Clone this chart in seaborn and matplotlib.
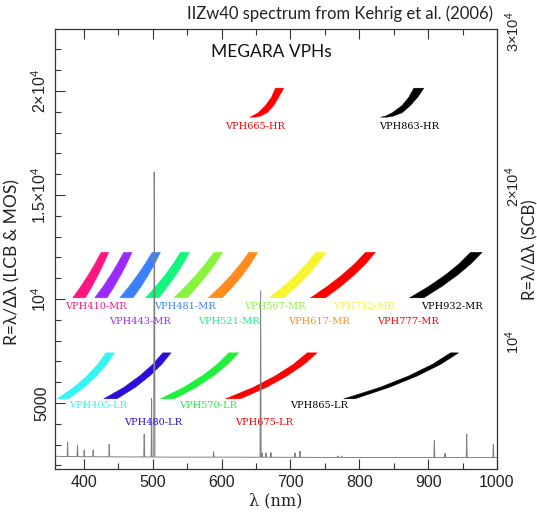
import matplotlib
matplotlib.use("Agg")
import matplotlib.pyplot as plt
from matplotlib.ticker import MultipleLocator, FixedLocator
import seaborn as sns

# spectrum of IIZw40 (wavelength nm, flux scaled to the left axis)
spec_wave = [358, 370, 375.6, 376.3, 377.0, 385, 390.0, 390.7, 391.4, 396,
             399.7, 400.4, 401.1, 408, 412.8, 413.5, 414.2, 425, 436.1, 436.8,
             437.5, 455, 470, 486.9, 487.6, 488.3, 495, 497.6, 498.3, 499.0,
             501.4, 502.1, 502.6, 503.2, 520, 550, 587.7, 588.4, 589.1, 620,
             645, 655.9, 656.7, 657.4, 658.4, 659.0, 659.6, 663.8, 664.4, 665.0,
             671.1, 671.7, 672.3, 690, 705.9, 706.6, 707.3, 713.1, 713.8, 714.5,
             740, 768.4, 769.0, 769.6, 773.8, 774.4, 775.0, 820, 860, 890,
             908.3, 909.0, 909.7, 923.8, 924.5, 925.2, 940, 955.3, 956.0, 956.7,
             975, 994.0, 994.7, 995.4, 1000]
spec_flux = [2440, 2430, 2430, 3125, 2430, 2425, 2425, 2980, 2425, 2420,
             2420, 2740, 2420, 2420, 2420, 2740, 2420, 2415, 2415, 3015,
             2415, 2410, 2410, 2410, 3500, 2410, 2405, 2405, 5230, 2405,
             2405, 16100, 13900, 2405, 2400, 2400, 2400, 2660, 2400, 2400,
             2395, 2395, 10400, 2395, 2395, 2600, 2395, 2395, 2600, 2395,
             2395, 2610, 2395, 2390, 2390, 2600, 2390, 2390, 2690, 2390,
             2385, 2385, 2450, 2385, 2385, 2450, 2385, 2380, 2380, 2380,
             2380, 3190, 2380, 2380, 2580, 2380, 2380, 2380, 3510, 2380,
             2380, 2380, 3020, 2380, 2380]

# MR gratings: resolution levels and band edges (nm)
mr_names = ["VPH410-MR", "VPH443-MR", "VPH481-MR", "VPH521-MR", "VPH567-MR",
            "VPH617-MR", "VPH712-MR", "VPH777-MR", "VPH932-MR"]
mr_colors = ["#ff1480", "#9a2bff", "#3a80ff", "#14f57d", "#88f53c",
             "#ff8c1e", "#f5f532", "#ff0000", "#000000"]
mr_R = [10080, 10628, 11175, 11722, 12270]
mr_left = [[383.0, 394.7, 405.5, 415.3, 424.3],
           [415.0, 427.0, 438.0, 448.0, 457.1],
           [451.3, 464.7, 477.0, 488.2, 498.4],
           [488.6, 503.5, 517.0, 529.0, 539.5],
           [529.7, 546.6, 562.0, 575.8, 587.9],
           [579.7, 597.3, 613.0, 626.8, 638.7],
           [667.8, 688.7, 707.0, 722.6, 735.6],
           [728.4, 752.6, 774.0, 792.6, 808.3],
           [872.2, 900.0, 924.0, 944.3, 960.8]]
mr_right = [[401.5, 411.2, 420.0, 428.0, 435.3],
            [433.0, 443.5, 453.0, 461.6, 469.3],
            [470.8, 482.5, 493.0, 502.3, 510.4],
            [508.0, 521.2, 533.0, 543.5, 552.6],
            [549.2, 564.3, 578.0, 590.2, 601.0],
            [600.1, 616.0, 630.0, 641.9, 651.8],
            [689.6, 708.5, 725.0, 739.3, 751.2],
            [750.2, 772.5, 792.0, 808.8, 822.8],
            [893.0, 919.2, 942.0, 961.6, 977.8]]
mr_lab_x = [417, 482, 547, 611, 678, 742, 807, 871, 935]
mr_lab_y = [9630, 8940, 9630, 8940, 9630, 8940, 9630, 8940, 9630]

# LR gratings
lr_names = ["VPH405-LR", "VPH480-LR", "VPH570-LR", "VPH675-LR", "VPH865-LR"]
lr_colors = ["#33f5f5", "#2b0fd8", "#1ef03c", "#ff0000", "#000000"]
lr_R = [5226, 5779, 6332, 6884, 7437]
lr_left = [[360.3, 384.5, 403.7, 419.3, 431.4],
           [428.0, 457.2, 480.3, 499.2, 513.8],
           [510.4, 544.2, 571.0, 592.8, 609.7],
           [604.9, 645.3, 677.3, 703.4, 723.6],
           [776.7, 829.4, 871.3, 905.4, 931.8]]
lr_right = [[377.2, 399.9, 417.9, 432.6, 443.9],
            [447.4, 474.1, 495.2, 512.5, 525.8],
            [530.8, 562.6, 587.8, 608.3, 624.2],
            [626.7, 664.6, 694.7, 719.2, 738.1],
            [793.0, 843.0, 884.0, 917.5, 943.5]]
lr_lab_x = [420, 500, 580, 661, 741]
lr_lab_y = [4860, 4070, 4860, 4070, 4860]

# HR gratings
hr_names = ["VPH665-HR", "VPH863-HR"]
hr_colors = ["#ff0000", "#000000"]
hr_R = [18766, 18814, 18974, 19327, 19727, 20160]
hr_left = [[640.2, 643.6, 652.3, 663.0, 671.7, 677.5],
           [830.1, 837.3, 847.0, 861.5, 871.2, 878.5]]
hr_right = [[648.4, 655.7, 665.4, 675.1, 682.3, 689.6],
            [839.8, 848.4, 861.5, 873.6, 884.3, 893.0]]
hr_lab_x = [648, 872]
hr_lab_y = [18280, 18280]

left_ticks = [5000, 10000, 15000, 20000]
left_labels = ["5000", "10$^{4}$", "1.5×10$^{4}$", "2×10$^{4}$"]
right_ticks = [10000, 20000, 30000]
right_labels = ["10$^{4}$", "2×10$^{4}$", "3×10$^{4}$"]

sns.set_theme(style="ticks")
plt.rcParams["font.family"] = ["Liberation Sans", "DejaVu Sans"]
plt.rcParams["mathtext.fontset"] = "custom"
plt.rcParams["mathtext.rm"] = "Liberation Sans"
plt.rcParams["mathtext.it"] = "Liberation Sans:italic"
SANS = ["Lato", "DejaVu Sans"]
SERIF = ["DejaVu Serif"]

fig = plt.figure(figsize=(5.37, 5.12), dpi=100)
ax = fig.add_axes([0.1024, 0.0840, 0.8231, 0.8594])

sns.lineplot(x=spec_wave, y=spec_flux, sort=False, estimator=None,
             color="0.5", lw=0.7, ax=ax)

groups = [(mr_names, mr_colors, [mr_R] * len(mr_names), mr_left, mr_right, mr_lab_x, mr_lab_y),
          (lr_names, lr_colors, [lr_R] * len(lr_names), lr_left, lr_right, lr_lab_x, lr_lab_y),
          (hr_names, hr_colors, [hr_R] * len(hr_names), hr_left, hr_right, hr_lab_x, hr_lab_y)]
for names, colors, levels, lefts, rights, lx, ly in groups:
    for i in range(len(names)):
        ax.fill_betweenx(levels[i], lefts[i], rights[i], color=colors[i], lw=0.3,
                         edgecolor=colors[i])
        ax.text(lx[i], ly[i], names[i], color=colors[i], family=SERIF,
                fontsize=7, ha="center", va="center")

ax.set_xlim(358, 1000)
ax.set_ylim(1830, 22980)
ax.xaxis.set_major_locator(MultipleLocator(100))
ax.xaxis.set_minor_locator(MultipleLocator(50))
ax.yaxis.set_major_locator(FixedLocator(left_ticks))
ax.yaxis.set_minor_locator(MultipleLocator(1000))
ax.set_yticklabels(left_labels, rotation=90, va="center")
ax.tick_params(which="both", direction="in", top=True, right=True,
               colors="#333333", labelcolor="#222222", labelsize=11.5, width=0.8)
ax.tick_params(which="major", length=7, pad=4)
ax.tick_params(which="minor", length=4)
for sp in ax.spines.values():
    sp.set_color("#333333")
    sp.set_linewidth(0.9)

ax.set_xlabel("λ (nm)", family=SERIF, fontsize=11.5, labelpad=2, color="#222222")
ax.set_ylabel("")

ax2 = ax.twinx()
ax2.set_ylim(1806, 30194)
ax2.set_yticks(right_ticks)
ax2.set_yticklabels(right_labels, rotation=90, va="center")
ax2.tick_params(axis="y", length=0, pad=4.5, labelsize=10.5, labelcolor="#222222")
for sp in ax2.spines.values():
    sp.set_visible(False)

fig.text(12 / 537, 1 - 262 / 512, "R=λ/Δλ (LCB & MOS)", rotation=90,
         ha="center", va="center", family=SANS, fontsize=12.5, color="#222222")
fig.text(530 / 537, 1 - 250 / 512, "R=λ/Δλ (SCB)", rotation=90,
         ha="center", va="center", family=SANS, fontsize=12, color="#222222")
fig.text(340 / 537, 1 - 14 / 512, "IIZw40 spectrum from Kehrig et al. (2006)",
         ha="center", va="center", family=SANS, fontsize=12, color="#222222")
fig.text(271 / 537, 1 - 52 / 512, "MEGARA VPHs",
         ha="center", va="center", family=SANS, fontsize=12.5, color="#111111")

fig.savefig("out.png", dpi=100)
